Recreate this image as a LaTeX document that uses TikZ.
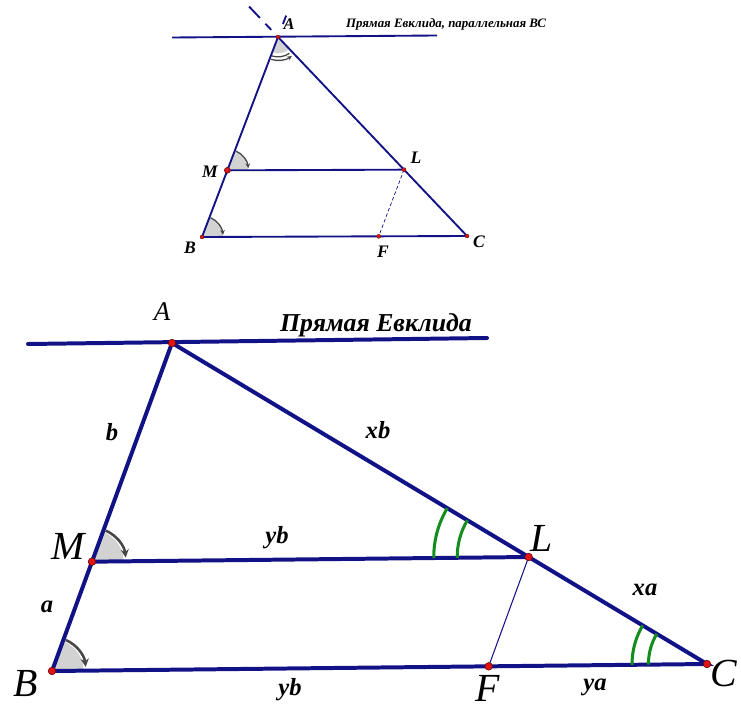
\documentclass[tikz,border=0pt]{standalone}
\usepackage{fontspec}
\setmainfont{Liberation Serif}
\usetikzlibrary{calc,angles,arrows.meta}
\definecolor{navy}{RGB}{18,18,135}
\definecolor{punto}{RGB}{225,20,20}
\definecolor{verde}{RGB}{20,140,30}

\begin{document}
\begin{tikzpicture}[x=0.03cm, y=0.03cm,
        % Lati della figura grande (blu scuro, spessi)
        side/.style={navy, line width=3.4pt, line cap=round},
        % Lati della figura piccola
        thinside/.style={navy, line width=1.6pt},
        % Punti (rossi)
        dot/.style={circle, fill=punto, draw=punto!45!black, line width=0.5pt, minimum size=6.5pt, inner sep=0pt},
        smalldot/.style={dot, minimum size=3.4pt, line width=0.3pt},
        % Settori grigi degli angoli
        sector/.style={fill=gray!35},
        % Freccia curva sugli angoli
        turn/.style={draw=black!72, line width=2.2pt, -{Stealth[length=7pt, width=7pt]}},
        smallturn/.style={draw=black!72, line width=1.1pt, -{Stealth[length=4pt, width=4pt]}},
        % Archi verdi degli angoli uguali
        equal/.style={draw=verde, line width=2.6pt},
        % Etichette
        big/.style={font=\fontsize{34}{34}\selectfont\itshape},
        sidelabel/.style={font=\fontsize{21}{21}\selectfont\bfseries\itshape},
        small/.style={font=\fontsize{15}{15}\selectfont\bfseries\itshape}
    ]
    \useasboundingbox (0,0) rectangle (741,-708);

    % --- FIGURA PICCOLA (IN ALTO) ---
    \coordinate (tA) at (278,-37);
    \coordinate (tB) at (202,-237);
    \coordinate (tC) at (467,-236);
    \coordinate (tM) at ($(tA)!2/3!(tB)$);
    \coordinate (tL) at ($(tA)!2/3!(tC)$);
    \coordinate (tF) at ($(tL)+1/3*($(tB)-(tA)$)$);
    \coordinate (tE1) at (172,-37.5);
    \coordinate (tE2) at (437,-35.5);

    % settori degli angoli
    \pic[sector, angle radius=14pt] {angle = tB--tA--tC};
    \pic[sector, angle radius=18pt] {angle = tL--tM--tA};
    \pic[sector, angle radius=18pt] {angle = tC--tB--tA};

    \draw[thinside] (tE1) -- (tE2);
    \draw[thinside] (tA) -- (tB) -- (tC) -- cycle;
    \draw[thinside] (tM) -- (tL);
    \draw[navy, line width=0.6pt, dash pattern=on 3pt off 2pt] (tL) -- (tF);
    % prolungamenti tratteggiati oltre A
    \foreach \s/\e in {0.036/0.067, 0.096/0.153}
        \draw[thinside] ($(tA)!-\s!(tC)$) -- ($(tA)!-\e!(tC)$);
    \draw[thinside] ($(tA)!-0.065!(tB)$) -- ($(tA)!-0.107!(tB)$);

    % frecce curve
    \draw[draw=black!72, line width=1.1pt] ([shift={(252:17pt)}]tA) arc[start angle=252, end angle=305, radius=17pt];
    \draw[smallturn] ([shift={(252:20pt)}]tA) arc[start angle=252, end angle=306, radius=20pt];
    \draw[smallturn] ([shift={(66:18pt)}]tM) arc[start angle=66, end angle=6, radius=18pt];
    \draw[smallturn] ([shift={(66:18pt)}]tB) arc[start angle=66, end angle=6, radius=18pt];

    \foreach \p in {tA,tB,tC,tL,tF}
        \node[smalldot] (d\p) at (\p) {};
    \node[dot, minimum size=5pt] (dtM) at (tM) {};

    \node[small, font=\fontsize{14}{14}\selectfont\bfseries\itshape] (ltA) at (289,-24) {A};
    \node[small] (ltM) at (210,-172) {M};
    \node[small] (ltL) at (416,-158) {L};
    \node[small] (ltB) at (190,-248) {B};
    \node[small] (ltC) at (479,-242) {C};
    \node[small] (ltF) at (383,-252) {F};
    \node[font=\fontsize{11}{11}\selectfont\bfseries\itshape] (tTitle) at (446,-24) {Прямая Евклида, параллельная ВС};

    % --- FIGURA GRANDE (IN BASSO) ---
    \coordinate (A) at (172,-343);
    \coordinate (B) at (52,-671);
    \coordinate (C) at (707,-664);
    \coordinate (M) at ($(A)!2/3!(B)$);
    \coordinate (L) at ($(A)!2/3!(C)$);
    \coordinate (F) at ($(L)+1/3*($(B)-(A)$)$);
    \coordinate (E1) at (28,-344);
    \coordinate (E2) at (487,-338);

    % settori degli angoli
    \pic[sector, angle radius=27pt] {angle = L--M--A};
    \pic[sector, angle radius=27pt] {angle = C--B--A};

    \draw[side] (E1) -- (E2);
    \draw[side] (A) -- (B) -- (C) -- cycle;
    \draw[side] (M) -- (L);
    \draw[navy, line width=0.9pt] (L) -- (F);

    % archi verdi (angoli uguali)
    \pic[equal, angle radius=81pt] {angle = A--L--M};
    \pic[equal, angle radius=61pt] {angle = A--L--M};
    \pic[equal, angle radius=64pt] {angle = A--C--B};
    \pic[equal, angle radius=50pt] {angle = A--C--B};

    % frecce curve
    \draw[turn] ([shift={(66:29pt)}]M) arc[start angle=66, end angle=7, radius=29pt];
    \draw[turn] ([shift={(66:29pt)}]B) arc[start angle=66, end angle=7, radius=29pt];

    \foreach \p in {A,B,C,M,L,F}
        \node[dot] (d\p) at (\p) {};

    \node[big, font=\fontsize{23}{23}\selectfont\itshape] (lA) at (162,-312) {A};
    \node[big] (lM) at (68,-546) {M};
    \node[big] (lB) at (26,-684) {B};
    \node[big] (lL) at (542,-538) {L};
    \node[big] (lC) at (724,-673) {C};
    \node[big] (lF) at (488,-688) {F};
    \node[font=\fontsize{22}{22}\selectfont\bfseries\itshape] (title) at (376,-325) {Прямая Евклида};

    \node[sidelabel] (sb) at (112,-432) {b};
    \node[sidelabel] (sxb) at (378,-430) {xb};
    \node[sidelabel] (syb1) at (277,-538) {yb};
    \node[sidelabel] (sa) at (47,-607) {a};
    \node[sidelabel] (sxa) at (645,-590) {xa};
    \node[sidelabel] (sya) at (595,-687) {ya};
    \node[sidelabel] (syb2) at (290,-690) {yb};

\end{tikzpicture}
\end{document}
